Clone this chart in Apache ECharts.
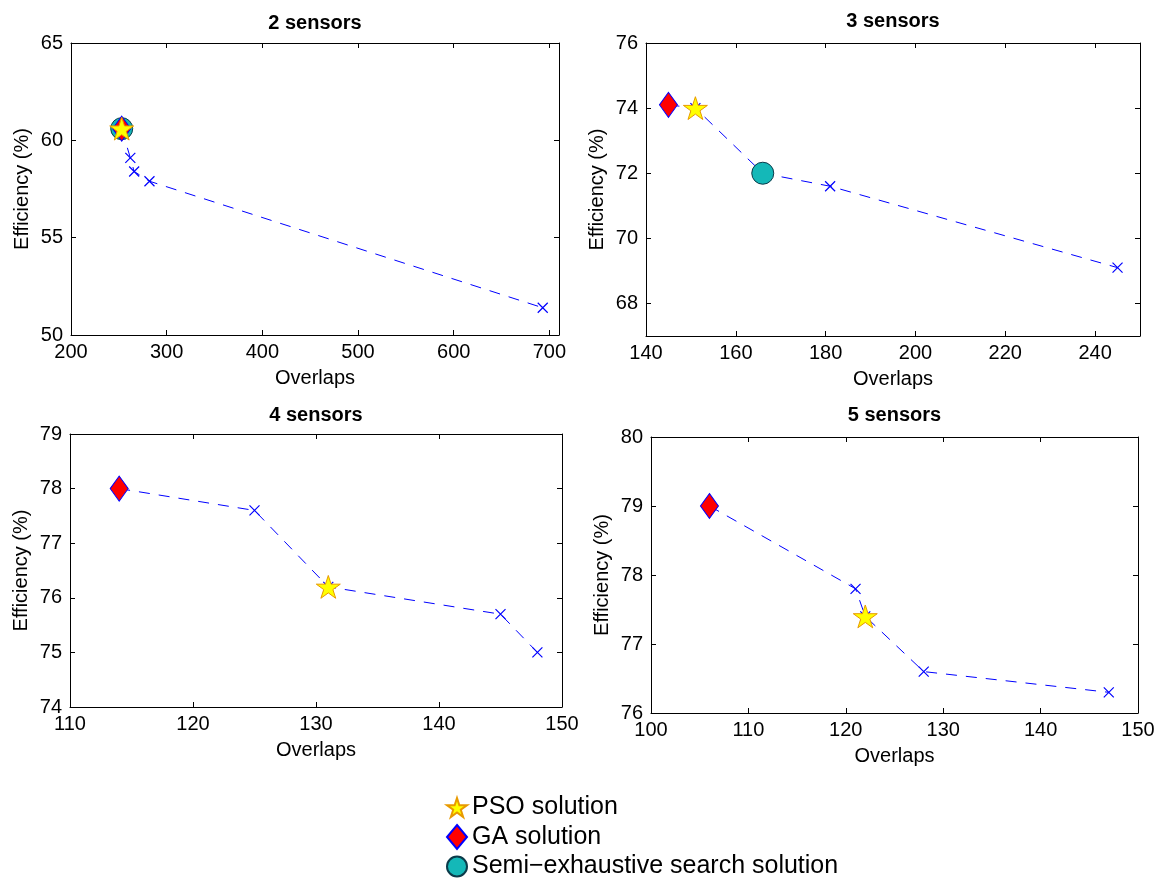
<!DOCTYPE html>
<html>
<head>
<meta charset="utf-8">
<script src="https://cdn.jsdelivr.net/npm/echarts@6/dist/echarts.min.js"></script>
<style>
  html, body { margin: 0; padding: 0; background: #fff; }
  #main { width: 1162px; height: 878px; }
</style>
</head>
<body>
<div id="main"></div>
<script>
// panel titles
const titles = ['2 sensors', '3 sensors', '4 sensors', '5 sensors'];

// pareto fronts (overlaps, efficiency %)
const front2X = [253, 262, 266, 282, 693];
const front2Y = [60.6, 59.1, 58.4, 57.9, 51.4];
const front3X = [145, 151, 166, 181, 245];
const front3Y = [74.1, 74.0, 72.0, 71.6, 69.1];
const front4X = [114, 125, 131, 145, 148];
const front4Y = [78.0, 77.6, 76.2, 75.7, 75.0];
const front5X = [106, 121, 122, 128, 147];
const front5Y = [79.0, 77.8, 77.4, 76.6, 76.3];

// solutions [overlaps, efficiency]
const pso = [[253, 60.6], [151, 74.0], [131, 76.2], [122, 77.4]];
const ga = [[253, 60.6], [145, 74.1], [114, 78.0], [106, 79.0]];
const semi = [[253, 60.6], [166, 72.0], null, null];

// axis ranges and tick labels
const xRange = [[200, 710], [140, 250], [110, 150], [100, 150]];
const yRange = [[50, 65], [67, 76], [74, 79], [76, 80]];
const xTicks = [
    [200, 300, 400, 500, 600, 700],
    [140, 160, 180, 200, 220, 240],
    [110, 120, 130, 140, 150],
    [100, 110, 120, 130, 140, 150]
];
const yTicks = [
    [50, 55, 60, 65],
    [68, 70, 72, 74, 76],
    [74, 75, 76, 77, 78, 79],
    [76, 77, 78, 79, 80]
];

const frontsX = [front2X, front3X, front4X, front5X];
const frontsY = [front2Y, front3Y, front4Y, front5Y];

const grids = [
    { left: 71, top: 43, width: 488, height: 292 },
    { left: 646, top: 43, width: 494, height: 293 },
    { left: 70, top: 434, width: 492, height: 273 },
    { left: 651, top: 437, width: 487, height: 276 }
];
const titleTops = [13, 11, 405, 405];

const FONT = '"Liberation Sans", Arial, Helvetica, sans-serif';
const starPath = 'path://M50,0L61.2,34.5L97.6,34.5L68.2,55.9L79.4,90.5L50,69.1L20.6,90.5L31.8,55.9L2.4,34.5L38.8,34.5Z';
const crossPath = 'path://M0,0L10,10M10,0L0,10';

let xAxes = [];
let yAxes = [];
let series = [];
let titleList = [];

for (let i = 0; i < 4; i++) {
    const line = { show: true, onZero: false, lineStyle: { color: '#000', width: 1 } };
    const tickX = { show: true, inside: true, length: 5, customValues: xTicks[i], lineStyle: { color: '#000' } };
    const tickY = { show: true, inside: true, length: 5, customValues: yTicks[i], lineStyle: { color: '#000' } };

    xAxes.push({
        type: 'value', gridIndex: i, position: 'bottom',
        min: xRange[i][0], max: xRange[i][1],
        axisLine: line, axisTick: tickX, splitLine: { show: false },
        axisLabel: { customValues: xTicks[i], color: '#000', fontSize: 20, fontFamily: FONT, margin: 7 },
        name: 'Overlaps', nameLocation: 'middle', nameGap: 33,
        nameTextStyle: { color: '#000', fontSize: 20, fontFamily: FONT }
    });
    xAxes.push({
        type: 'value', gridIndex: i, position: 'top',
        min: xRange[i][0], max: xRange[i][1],
        axisLine: line, axisTick: tickX, splitLine: { show: false },
        axisLabel: { show: false }
    });
    yAxes.push({
        type: 'value', gridIndex: i, position: 'left',
        min: yRange[i][0], max: yRange[i][1],
        axisLine: line, axisTick: tickY, splitLine: { show: false },
        axisLabel: { customValues: yTicks[i], color: '#000', fontSize: 20, fontFamily: FONT, margin: 8 },
        name: 'Efficiency (%)', nameLocation: 'middle', nameGap: 39, nameRotate: 90,
        nameTextStyle: { color: '#000', fontSize: 20, fontFamily: FONT }
    });
    yAxes.push({
        type: 'value', gridIndex: i, position: 'right',
        min: yRange[i][0], max: yRange[i][1],
        axisLine: line, axisTick: tickY, splitLine: { show: false },
        axisLabel: { show: false }
    });

    titleList.push({
        text: titles[i],
        left: grids[i].left + grids[i].width / 2,
        top: titleTops[i],
        textAlign: 'center',
        padding: 0,
        textStyle: { color: '#000', fontSize: 20, fontWeight: 'bold', fontFamily: FONT }
    });

    const pts = frontsX[i].map(function (x, k) { return [x, frontsY[i][k]]; });
    series.push({
        type: 'line', name: 'front' + i,
        xAxisIndex: 2 * i, yAxisIndex: 2 * i,
        data: pts, z: 2,
        symbol: crossPath, symbolSize: 10,
        itemStyle: { color: '#0000ff', borderColor: '#0000ff', borderWidth: 1.2 },
        lineStyle: { color: '#0000ff', width: 1, type: [11, 9] }
    });
    if (semi[i]) {
        series.push({
            type: 'scatter', name: 'Semi\u2212exhaustive search solution',
            xAxisIndex: 2 * i, yAxisIndex: 2 * i,
            data: [semi[i]], z: 3,
            symbol: 'circle', symbolSize: 22,
            itemStyle: { color: '#14b8b8', borderColor: '#0b3b4a', borderWidth: 1, opacity: 1 }
        });
    }
    series.push({
        type: 'scatter', name: 'GA solution',
        xAxisIndex: 2 * i, yAxisIndex: 2 * i,
        data: [ga[i]], z: 4,
        symbol: 'diamond', symbolSize: [18, 25],
        itemStyle: { color: '#ff0000', borderColor: '#0000ff', borderWidth: 1, opacity: 1 }
    });
    series.push({
        type: 'scatter', name: 'PSO solution',
        xAxisIndex: 2 * i, yAxisIndex: 2 * i,
        data: [pso[i]], z: 5,
        symbol: starPath, symbolSize: 24, symbolKeepAspect: true,
        itemStyle: { color: '#ffff00', borderColor: '#e89a00', borderWidth: 1, opacity: 1 }
    });
}

const chart = echarts.init(document.getElementById('main'), null, { renderer: 'canvas' });
chart.setOption({
    backgroundColor: '#ffffff',
    animation: false,
    title: titleList,
    grid: grids,
    xAxis: xAxes,
    yAxis: yAxes,
    legend: {
        orient: 'vertical',
        left: 446, top: 795, height: 120,
        padding: 0, itemGap: 4,
        itemWidth: 20, itemHeight: 24,
        textStyle: { color: '#000', fontSize: 25, lineHeight: 25, fontFamily: FONT },
        data: [
            { name: 'PSO solution', icon: starPath },
            { name: 'GA solution', icon: 'diamond' },
            { name: 'Semi\u2212exhaustive search solution', icon: 'circle' }
        ]
    },
    series: series
});
</script>
</body>
</html>
